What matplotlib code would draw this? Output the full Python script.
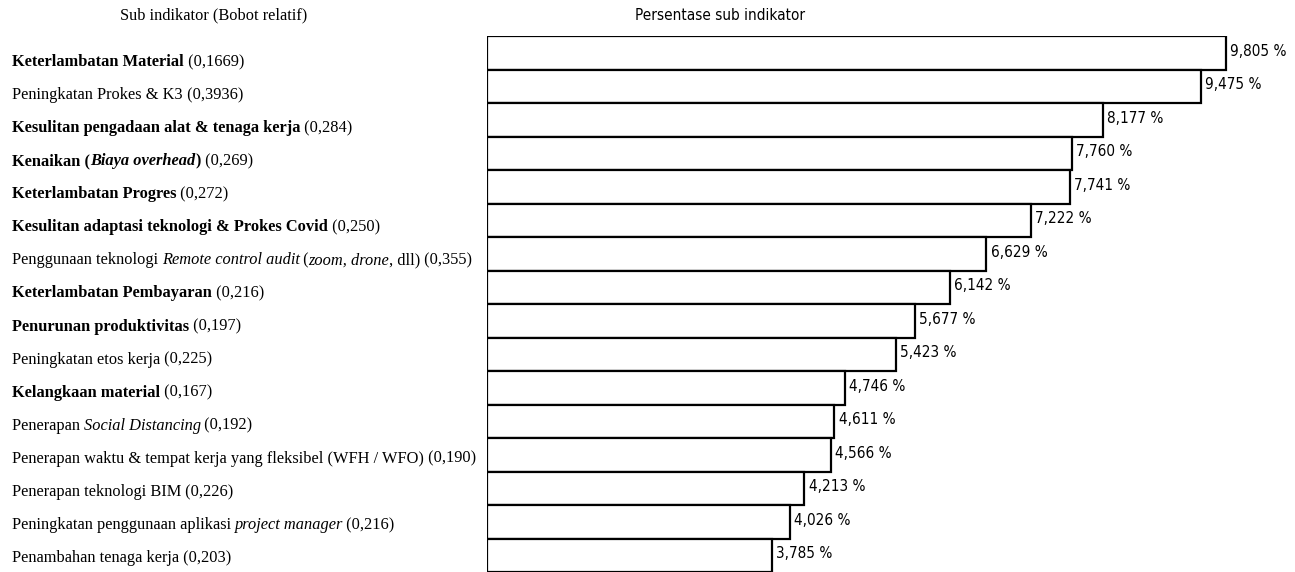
import matplotlib
matplotlib.use("Agg")
import matplotlib.pyplot as plt
from matplotlib.transforms import blended_transform_factory

# sub indikator, urut dari persentase terbesar
# tiap nama dipecah jadi potongan (teks, gaya): n=normal, b=bold, i=italic, bi=bold italic
nama = [
    [("Keterlambatan Material", 'b')],
    [("Peningkatan Prokes & K3", 'n')],
    [("Kesulitan pengadaan alat & tenaga kerja", 'b')],
    [("Kenaikan (", 'b'), ("Biaya overhead", 'bi'), (")", 'b')],
    [("Keterlambatan Progres", 'b')],
    [("Kesulitan adaptasi teknologi & Prokes Covid", 'b')],
    [("Penggunaan teknologi ", 'n'), ("Remote control audit", 'i'), (" (", 'n'),
     ("zoom, drone", 'i'), (", dll)", 'n')],
    [("Keterlambatan Pembayaran", 'b')],
    [("Penurunan produktivitas", 'b')],
    [("Peningkatan etos kerja", 'n')],
    [("Kelangkaan material", 'b')],
    [("Penerapan ", 'n'), ("Social Distancing", 'i')],
    [("Penerapan waktu & tempat kerja yang fleksibel (WFH / WFO)", 'n')],
    [("Penerapan teknologi BIM", 'n')],
    [("Peningkatan penggunaan aplikasi ", 'n'), ("project manager", 'i')],
    [("Penambahan tenaga kerja", 'n')],
]
bobot = ["0,1669", "0,3936", "0,284", "0,269", "0,272", "0,250", "0,355", "0,216",
         "0,197", "0,225", "0,167", "0,192", "0,190", "0,226", "0,216", "0,203"]
persen = [9.805, 9.475, 8.177, 7.760, 7.741, 7.222, 6.629, 6.142,
          5.677, 5.423, 4.746, 4.611, 4.566, 4.213, 4.026, 3.785]

plt.rcParams['font.family'] = ['Liberation Serif', 'DejaVu Serif']
sans = ['DejaVu Sans']

W, H = 1295, 572
fs = 11.8
fig = plt.figure(figsize=(W / 100, H / 100), dpi=100)
ax = fig.add_axes([487 / W, 0, 1 - 487 / W, 1 - 36 / H])

n = len(persen)
y = list(range(n))
ax.barh(y, persen, height=1.0, left=0, color='white', edgecolor='black', linewidth=1.6)
ax.set_xlim(0, (W - 487) / 75.34)
ax.set_ylim(n - 0.5, -0.5)
ax.axis('off')

for i, v in enumerate(persen):
    ax.annotate(f"{v:.3f}".replace('.', ',') + " %", (v, i), xytext=(3, 1),
                textcoords='offset points', va='center', ha='left',
                fontsize=11, family=sans, fontstretch='condensed')


def gaya(st):
    return dict(fontweight='bold' if 'b' in st else 'normal',
                fontstyle='italic' if 'i' in st else 'normal',
                fontsize=fs, va='bottom', ha='left')


# label kiri sedikit lebih rapat dari baris batang
tr = blended_transform_factory(fig.transFigure, ax.transData)
for i, (parts, b) in enumerate(zip(nama, bobot)):
    prev = None
    prev_st = 'n'
    yy = i + 0.3 + (7.2 - 0.43 * i) / 33.5
    for txt, st in parts + [(" (" + b + ")", 'n')]:
        if prev is None:
            prev = ax.text(12 / W, yy, txt, transform=tr, clip_on=False, **gaya(st))
        else:
            # spasi setelah italic sedikit dirapatkan
            dx = -1 if ('i' in prev_st and txt.startswith(' ')) else 0
            prev = ax.annotate(txt, xy=(1, 0), xycoords=prev, xytext=(dx, 0),
                               textcoords='offset points', annotation_clip=False, **gaya(st))
        prev_st = st

fig.text(214 / W, 1 - 15 / H, "Sub indikator (Bobot relatif)", ha='center', va='center',
         fontsize=fs)
fig.text(720 / W, 1 - 15 / H, "Persentase sub indikator", ha='center', va='center',
         fontsize=11, family=sans, fontstretch='condensed')

fig.savefig("out.png", dpi=100)
